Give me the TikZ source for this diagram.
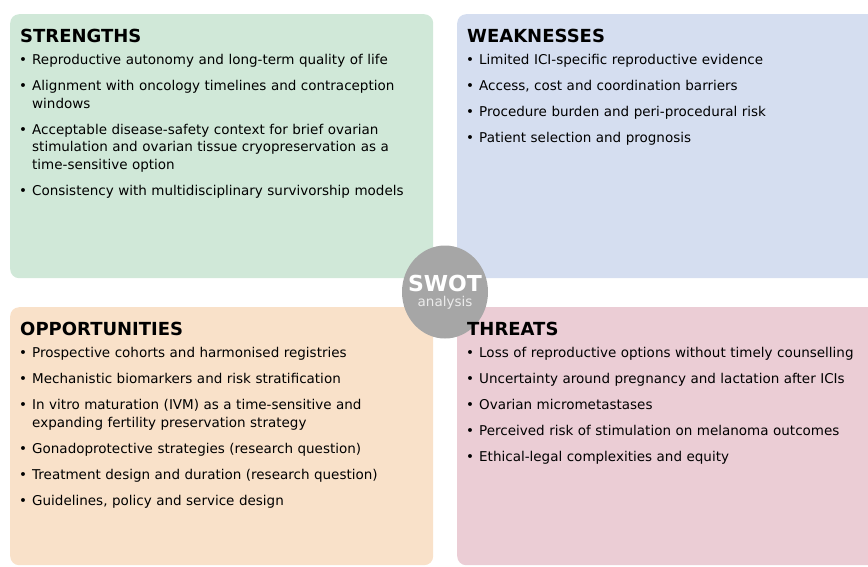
\documentclass[tikz,border=0pt]{standalone}
\usepackage{fontspec}
\setmainfont{DejaVu Sans}
\usepackage{enumitem}
\usetikzlibrary{positioning,shapes.geometric}

\definecolor{strengthfill}{HTML}{D0E8D8}
\definecolor{weakfill}{HTML}{D5DEF0}
\definecolor{oppfill}{HTML}{F9E1C9}
\definecolor{threatfill}{HTML}{EBCDD5}
\definecolor{swotgrey}{HTML}{A6A6A6}

% bullet list used inside every quadrant
\newcommand{\swotlist}[1]{%
  \begin{itemize}[leftmargin=12pt,labelsep=5pt,itemsep=8.5pt,parsep=0pt,
    topsep=0pt,partopsep=0pt,label=\textbullet]#1\end{itemize}}

\tikzset{
  quad/.style={rectangle, rounded corners=9pt, minimum width=423pt,
    minimum height=264pt, anchor=north west, inner sep=0pt},
  quadtitle/.style={anchor=base west, inner sep=0pt,
    font=\fontsize{18}{20}\selectfont\bfseries},
  quadlist/.style={anchor=north west, inner sep=0pt, text width=401pt,
    align=left, font=\fontsize{13.5}{17.5}\selectfont},
}

\begin{document}
\begin{tikzpicture}[x=1pt,y=-1pt]
\useasboundingbox (0,0) rectangle (868,566);

% the four quadrants
\node[quad, fill=strengthfill] (S) at (10,14) {};
\node[quad, fill=weakfill] (W) at (457,14) {};
\node[quad, fill=oppfill, minimum height=258pt] (O) at (10,307) {};
\node[quad, fill=threatfill, minimum height=258pt] (T) at (457,307) {};

% centre badge
\node[ellipse, fill=swotgrey, minimum width=86pt, minimum height=93pt, inner sep=0pt] (C) at (445,292) {};
\node[text=white, inner sep=0pt, font=\fontsize{22}{24}\selectfont\bfseries] (C-top) at ([yshift=9pt]C.center) {SWOT};
\node[text=white!92!black, inner sep=0pt, font=\fontsize{13.5}{15}\selectfont, below=5pt of C-top] (C-bottom) {analysis};

% titles
\node[quadtitle] (S-title) at ([shift={(10pt,-28pt)}]S.north west) {STRENGTHS};
\node[quadtitle] (W-title) at ([shift={(10pt,-28pt)}]W.north west) {WEAKNESSES};
\node[quadtitle] (O-title) at ([shift={(10pt,-28pt)}]O.north west) {OPPORTUNITIES};
\node[quadtitle] (T-title) at ([shift={(10pt,-28pt)}]T.north west) {THREATS};

% lists
\node[quadlist] (S-list) at ([yshift=-5pt]S-title.base west) {\swotlist{
  \item Reproductive autonomy and long-term quality of life
  \item Alignment with oncology timelines and contraception windows
  \item Acceptable disease-safety context for brief ovarian stimulation and ovarian tissue cryopreservation as a time-sensitive option
  \item Consistency with multidisciplinary survivorship models}};
\node[quadlist] (W-list) at ([yshift=-5pt]W-title.base west) {\swotlist{
  \item Limited ICI-specific reproductive evidence
  \item Access, cost and coordination barriers
  \item Procedure burden and peri-procedural risk
  \item Patient selection and prognosis}};
\node[quadlist] (O-list) at ([yshift=-5pt]O-title.base west) {\swotlist{
  \item Prospective cohorts and harmonised registries
  \item Mechanistic biomarkers and risk stratification
  \item In vitro maturation (IVM) as a time-sensitive and expanding fertility preservation strategy
  \item Gonadoprotective strategies (research question)
  \item Treatment design and duration (research question)
  \item Guidelines, policy and service design}};
\node[quadlist] (T-list) at ([yshift=-5pt]T-title.base west) {\swotlist{
  \item Loss of reproductive options without timely counselling
  \item Uncertainty around pregnancy and lactation after ICIs
  \item Ovarian micrometastases
  \item Perceived risk of stimulation on melanoma outcomes
  \item Ethical-legal complexities and equity}};
\end{tikzpicture}
\end{document}
